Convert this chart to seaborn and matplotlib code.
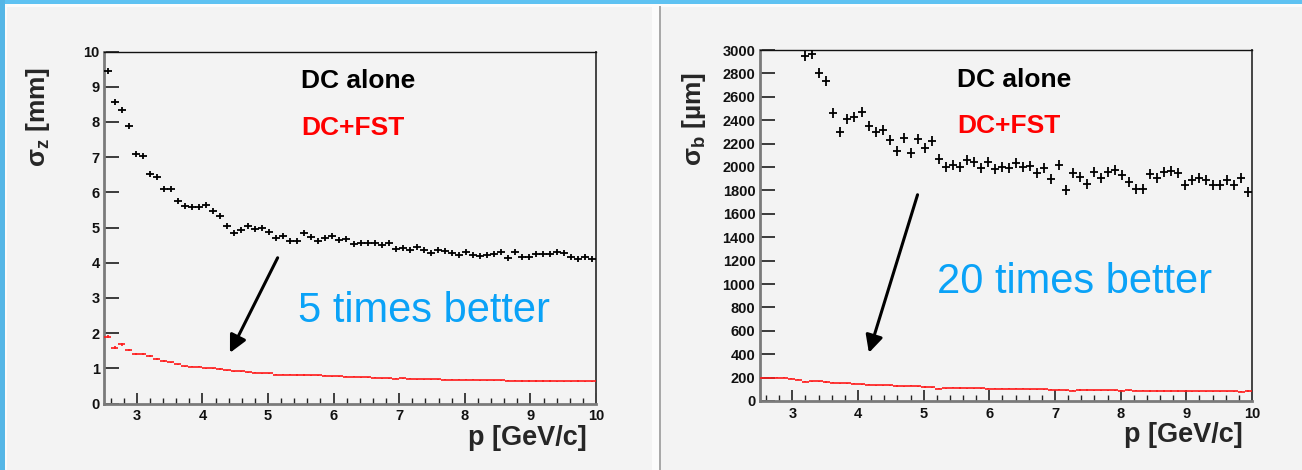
import numpy as np
import matplotlib
matplotlib.use("Agg")
import matplotlib.pyplot as plt
from matplotlib.path import Path
from matplotlib.patches import Rectangle
from matplotlib.ticker import MultipleLocator
import seaborn as sns

# ---------------------------------------------------------------- binning
P_LO, P_HI, N_BINS = 2.5, 10.0, 70
p_edges = np.linspace(P_LO, P_HI, N_BINS + 1)
p_centers = 0.5 * (p_edges[:-1] + p_edges[1:])
half_bin = 0.5 * (p_edges[1] - p_edges[0])

# ------------------------------------------------- sigma_z [mm] vs p
dc_sigma_z = [9.46, 8.56, 8.33, 7.87, 7.09, 7.04, 6.52, 6.43, 6.10, 6.10,
              5.76, 5.61, 5.58, 5.58, 5.64, 5.48, 5.34, 5.03, 4.84, 4.92,
              5.05, 4.95, 5.00, 4.86, 4.71, 4.76, 4.63, 4.63, 4.84, 4.73,
              4.61, 4.69, 4.75, 4.65, 4.67, 4.53, 4.57, 4.57, 4.55, 4.50,
              4.57, 4.40, 4.43, 4.35, 4.44, 4.35, 4.27, 4.36, 4.32, 4.27,
              4.21, 4.29, 4.21, 4.19, 4.21, 4.25, 4.31, 4.12, 4.29, 4.17,
              4.15, 4.24, 4.24, 4.24, 4.29, 4.27, 4.15, 4.10, 4.15, 4.10]

fst_sigma_z = [1.90, 1.59, 1.68, 1.52, 1.41, 1.41, 1.35, 1.26, 1.21, 1.17,
               1.12, 1.06, 1.05, 1.05, 1.00, 1.00, 0.98, 0.95, 0.92, 0.91,
               0.89, 0.87, 0.86, 0.86, 0.82, 0.82, 0.82, 0.81, 0.81, 0.80,
               0.80, 0.79, 0.77, 0.77, 0.76, 0.76, 0.75, 0.74, 0.73, 0.72,
               0.72, 0.71, 0.72, 0.70, 0.69, 0.69, 0.69, 0.69, 0.68, 0.67,
               0.67, 0.67, 0.67, 0.66, 0.66, 0.66, 0.66, 0.65, 0.65, 0.64,
               0.64, 0.64, 0.64, 0.64, 0.63, 0.63, 0.63, 0.64, 0.63, 0.63]
fst_sigma_z_err = [0.05, 0.04, 0.04, 0.03, 0.03, 0.03, 0.03, 0.02, 0.02, 0.02] + [0.015] * 60

# ------------------------------------------------- sigma_b [um] vs p
# DC-alone values of the first six bins lie above the plotted range
dc_b_first_bin = 6
dc_sigma_b = [2951, 2966, 2801, 2735, 2464, 2296, 2410, 2425, 2473, 2350,
              2296, 2316, 2231, 2137, 2251, 2123, 2237, 2165, 2222, 2066,
              2003, 2017, 2003, 2060, 2040, 1994, 2045, 1980, 2003, 1994,
              2037, 2003, 2011, 1951, 1994, 1897, 2017, 1803, 1946, 1917,
              1852, 1960, 1909, 1960, 1974, 1932, 1875, 1812, 1814, 1942,
              1905, 1956, 1962, 1948, 1843, 1885, 1905, 1885, 1843, 1843,
              1885, 1843, 1908, 1786]

fst_sigma_b = [200, 200, 199, 200, 192, 183, 165, 168, 170, 163,
               158, 152, 152, 148, 142, 140, 135, 133, 133, 128,
               127, 129, 124, 120, 116, 106, 110, 112, 111, 109,
               108, 107, 105, 106, 106, 105, 104, 104, 100, 99,
               99, 98, 98, 92, 89, 94, 94, 93, 93, 92,
               92, 89, 90, 88, 87, 86, 86, 85, 85, 85,
               84, 84, 84, 84, 83, 83, 83, 82, 78, 86]
fst_sigma_b_err = [5] * N_BINS

# ---------------------------------------------------------------- style
BG = "#f3f3f3"
FRAME_BLUE = "#5ec2f2"
TEXT_BLUE = "#0aa2f7"

sns.set_theme(style="ticks")
plt.rcParams["font.family"] = ["Liberation Sans", "DejaVu Sans"]
plt.rcParams["font.weight"] = "bold"
plt.rcParams["mathtext.fontset"] = "custom"
plt.rcParams["mathtext.rm"] = "Liberation Sans:bold"
plt.rcParams["mathtext.it"] = "Liberation Sans:bold"
plt.rcParams["mathtext.bf"] = "Liberation Sans:bold"

W, H = 1302, 470
fig = plt.figure(figsize=(W / 100, H / 100), dpi=100, facecolor=BG)


def px_rect(x, y_top, w, h, color):
    fig.add_artist(Rectangle((x / W, 1 - (y_top + h) / H), w / W, h / H,
                             transform=fig.transFigure, facecolor=color,
                             edgecolor="none", zorder=0))


# slide frame: blue band on top and along the left edge, panel divider
px_rect(0, 0, W, 4.5, FRAME_BLUE)
px_rect(0, 4.5, W, 2, "#fbfbfb")
px_rect(0, 0, 5, H, "#55b6e6")
px_rect(5, 6, 2, H, "#fbfbfb")
px_rect(652, 6, 7, H, "#fbfbfb")
px_rect(659, 6, 2, H, "#a8a8a8")

ax_z = fig.add_axes([104 / W, 1 - 403.5 / H, 492 / W, 352 / H])
ax_b = fig.add_axes([759.5 / W, 1 - 401 / H, 492.5 / W, 351 / H])


def cross_marker(half_w, half_h):
    return Path([(-half_w, 0), (half_w, 0), (0, -half_h), (0, half_h)],
                [Path.MOVETO, Path.LINETO, Path.MOVETO, Path.LINETO])


def style_axes(ax, ymax, ystep):
    ax.set_facecolor(BG)
    ax.set_xlim(P_LO, P_HI)
    ax.set_ylim(0, ymax)
    ax.xaxis.set_major_locator(MultipleLocator(1))
    ax.xaxis.set_minor_locator(MultipleLocator(0.2))
    ax.yaxis.set_major_locator(MultipleLocator(ystep))
    ax.tick_params(axis="y", which="major", direction="in", length=11,
                   width=1.4, color="#3a3a3a", labelsize=10.5, pad=3,
                   left=True, right=False)
    ax.tick_params(axis="x", which="major", direction="in", length=8,
                   width=1.2, color="#222222", labelsize=10.5, pad=4,
                   bottom=True, top=False)
    ax.tick_params(axis="x", which="minor", direction="in", length=4,
                   width=1.0, color="#222222", bottom=True, top=False)
    for lbl in ax.get_xticklabels() + ax.get_yticklabels():
        lbl.set_fontweight("bold")
        lbl.set_color("#111111")
    for side in ("left", "bottom"):
        ax.spines[side].set_color("#7a7a7a")
        ax.spines[side].set_linewidth(2.0)
    ax.spines["top"].set_color("#111111")
    ax.spines["top"].set_linewidth(1.0)
    ax.spines["right"].set_color("#444444")
    ax.spines["right"].set_linewidth(1.4)
    ax.set_xlabel("")
    ax.set_ylabel("")


# ------------------------------------------------------- sigma_z panel
sns.scatterplot(x=p_centers, y=dc_sigma_z, ax=ax_z,
                marker=cross_marker(0.5, 0.47), s=28, color="black",
                edgecolor="black", linewidth=1.3, legend=False, zorder=3)
ax_z.errorbar(p_centers, fst_sigma_z, xerr=half_bin, yerr=fst_sigma_z_err,
              fmt="none", ecolor="#ff1a1a", elinewidth=1.2, capsize=0, zorder=3)
style_axes(ax_z, 10, 1)

ax_z.text(5.51, 8.96, "DC alone", color="black", fontsize=19,
          fontweight="bold", ha="left", va="baseline")
ax_z.text(5.51, 7.63, "DC+FST", color="#ff0000", fontsize=19,
          fontweight="bold", ha="left", va="baseline")
ax_z.text(5.455, 2.32, "5 times better", color=TEXT_BLUE, fontsize=30,
          fontweight="normal", ha="left", va="baseline")
ax_z.annotate("", xy=(4.42, 1.44), xytext=(5.147, 4.14),
              arrowprops=dict(arrowstyle="-|>", color="black", lw=2.2,
                              mutation_scale=26, shrinkA=0, shrinkB=0))
ax_z.text(-0.135, 0.956, r"$\sigma_{z}$ [mm]", transform=ax_z.transAxes,
          rotation=90, ha="center", va="top", fontsize=19, fontweight="bold")
ax_z.text(0.982, -0.118, "p [GeV/c]", transform=ax_z.transAxes,
          ha="right", va="baseline", fontsize=19.5, fontweight="bold")

# ------------------------------------------------------- sigma_b panel
sns.scatterplot(x=p_centers[dc_b_first_bin:], y=dc_sigma_b, ax=ax_b,
                marker=cross_marker(0.34, 0.5), s=55, color="black",
                edgecolor="black", linewidth=1.3, legend=False, zorder=3,
                clip_on=True)
ax_b.errorbar(p_centers, fst_sigma_b, xerr=half_bin, yerr=fst_sigma_b_err,
              fmt="none", ecolor="#ff1a1a", elinewidth=1.2, capsize=0, zorder=3)
style_axes(ax_b, 3000, 200)

ax_b.text(5.51, 2681, "DC alone", color="black", fontsize=19,
          fontweight="bold", ha="left", va="baseline")
ax_b.text(5.51, 2289, "DC+FST", color="#ff0000", fontsize=19,
          fontweight="bold", ha="left", va="baseline")
ax_b.text(5.204, 924, "20 times better", color=TEXT_BLUE, fontsize=30,
          fontweight="normal", ha="left", va="baseline")
ax_b.annotate("", xy=(4.166, 412), xytext=(4.907, 1763),
              arrowprops=dict(arrowstyle="-|>", color="black", lw=2.2,
                              mutation_scale=26, shrinkA=0, shrinkB=0))
ax_b.text(-0.134, 0.937, r"$\sigma_{b}$ [µm]", transform=ax_b.transAxes,
          rotation=90, ha="center", va="top", fontsize=19, fontweight="bold")
ax_b.text(0.981, -0.117, "p [GeV/c]", transform=ax_b.transAxes,
          ha="right", va="baseline", fontsize=19.5, fontweight="bold")

fig.savefig("out.png", dpi=100, facecolor=BG)
